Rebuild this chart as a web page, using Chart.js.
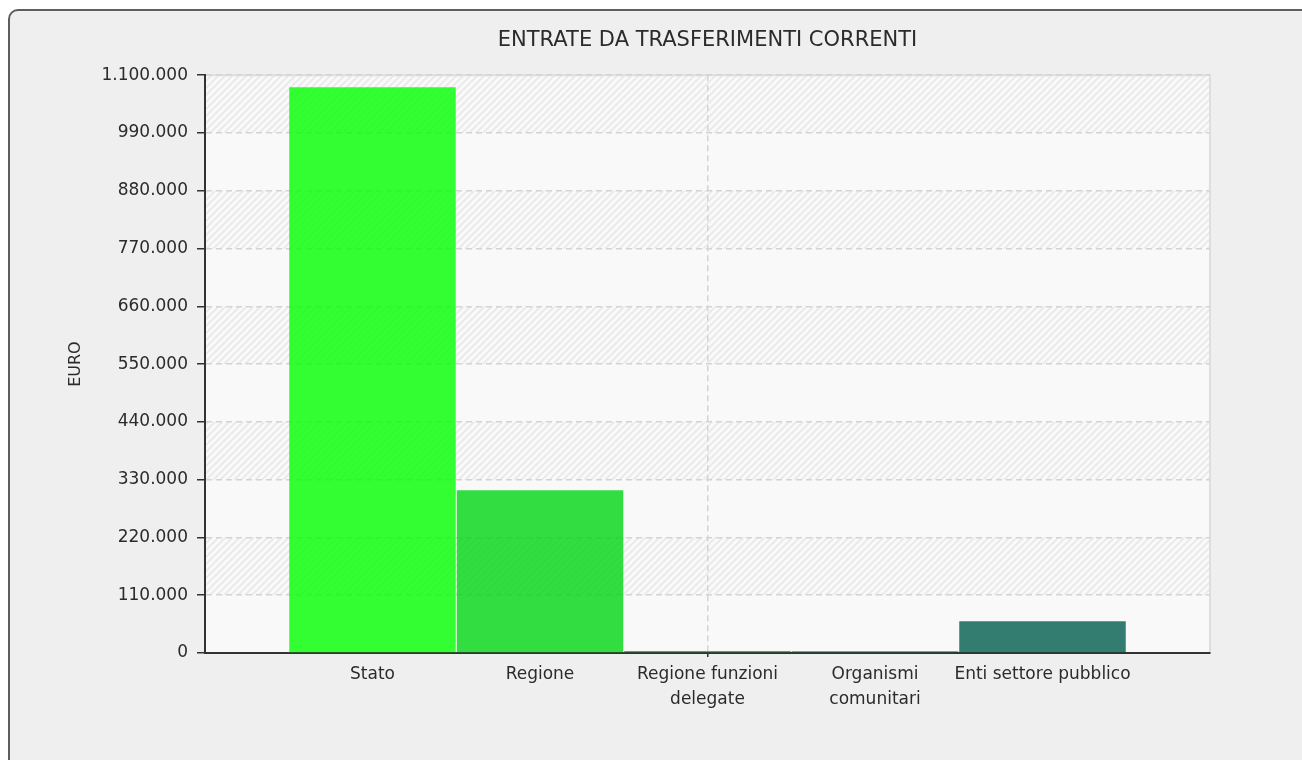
<!DOCTYPE html>
<html>
<head>
<meta charset="utf-8">
<title>Entrate da trasferimenti correnti</title>
<script src="https://cdn.jsdelivr.net/npm/chart.js@4.4.1/dist/chart.umd.min.js"></script>
<style>
  html, body { margin: 0; padding: 0; background: #fff; overflow: hidden; }
  #panel { position: absolute; left: 8px; top: 9px; width: 1330px; height: 790px; box-sizing: border-box;
           border: 2px solid #5e5e5e; border-radius: 10px; background: #efefef; }
  #wrap { position: absolute; left: 0; top: 0; width: 1302px; height: 760px; }
</style>
</head>
<body>
<div id="panel"></div>
<div id="wrap"><canvas id="chart"></canvas></div>
<script>
// ── Data ──
const categories = ['Stato', 'Regione', ['Regione funzioni', 'delegate'], ['Organismi', 'comunitari'], 'Enti settore pubblico'];
const values = [1077000, 310000, 4000, 3500, 60500];
const barColors = ['rgba(0,255,0,0.8)', 'rgba(0,214,20,0.8)', 'rgba(0,174,39,0.8)', 'rgba(0,134,58,0.8)', 'rgba(0,94,78,0.8)'];
const yMax = 1100000;
const yStep = 110000;

const FONT = 'DejaVu Sans';

function formatIt(v) {
  return String(Math.round(v)).replace(/\B(?=(\d{3})+(?!\d))/g, '.');
}

// diagonal hatch tile used for alternate bands of the plot
function makeHatch() {
  const c = document.createElement('canvas');
  c.width = 7; c.height = 7;
  const g = c.getContext('2d');
  g.fillStyle = '#f9f9f9';
  g.fillRect(0, 0, 7, 7);
  g.strokeStyle = '#e8e8e8';
  g.lineWidth = 1.6;
  g.beginPath();
  g.moveTo(-1, 8); g.lineTo(8, -1);
  g.moveTo(-1, 1); g.lineTo(1, -1);
  g.moveTo(6, 8); g.lineTo(8, 6);
  g.stroke();
  return c;
}

const plotBackground = {
  id: 'plotBackground',
  beforeDraw(chart) {
    const { ctx, chartArea: a, scales: { y } } = chart;
    ctx.save();
    ctx.fillStyle = '#f9f9f9';
    ctx.fillRect(a.left, a.top, a.right - a.left, a.bottom - a.top);
    ctx.fillStyle = ctx.createPattern(makeHatch(), 'repeat');
    for (let v = yStep; v < yMax; v += 2 * yStep) {
      const y1 = y.getPixelForValue(v + yStep);
      const y0 = y.getPixelForValue(v);
      ctx.fillRect(a.left, y1, a.right - a.left, y0 - y1);
    }
    ctx.strokeStyle = '#dedede';
    ctx.lineWidth = 2;
    ctx.beginPath();
    ctx.moveTo(a.left, a.top);
    ctx.lineTo(a.right, a.top);
    ctx.lineTo(a.right, a.bottom);
    ctx.stroke();
    ctx.restore();
  }
};

new Chart(document.getElementById('chart'), {
  type: 'bar',
  data: {
    datasets: [{
      label: 'EURO',
      data: values.map((v, i) => ({ x: i + 1, y: v })),
      backgroundColor: barColors,
      borderWidth: 0,
      barPercentage: 1,
      categoryPercentage: 0.994
    }]
  },
  options: {
    responsive: true,
    maintainAspectRatio: false,
    animation: false,
    layout: { padding: { left: 60, right: 92, top: 0, bottom: 0 } },
    plugins: {
      legend: { display: false },
      tooltip: { enabled: false },
      title: {
        display: true,
        text: 'ENTRATE DA TRASFERIMENTI CORRENTI',
        fullSize: false,
        color: '#2b2b2b',
        font: { family: FONT, size: 21, weight: 'normal' },
        padding: { top: 28, bottom: 22 }
      }
    },
    scales: {
      x: {
        type: 'linear',
        min: 0,
        max: categories.length + 1,
        offset: false,
        afterFit: s => { s.height = 107; },
        ticks: {
          stepSize: 1,
          autoSkip: false,
          maxRotation: 0,
          padding: 5,
          color: '#2b2b2b',
          font: { family: FONT, size: 17, lineHeight: '25px' },
          callback: v => categories[v - 1] || ''
        },
        grid: {
          offset: false,
          color: c => c.tick && c.tick.value === 3 ? '#d4d4d4' : 'rgba(0,0,0,0)',
          tickColor: c => c.tick && c.tick.value === 3 ? '#333' : 'rgba(0,0,0,0)',
          tickBorderDash: [],
          tickLength: 4,
          lineWidth: 1.5
        },
        border: { display: true, color: '#333', width: 2, dash: [6, 4] }
      },
      y: {
        min: 0,
        max: yMax,
        afterFit: s => { s.width = 145; },
        title: {
          display: true,
          text: 'EURO',
          color: '#2b2b2b',
          font: { family: FONT, size: 16 },
          padding: { top: 6, bottom: 0 }
        },
        ticks: {
          stepSize: yStep,
          padding: 9,
          color: '#2b2b2b',
          font: { family: FONT, size: 17 },
          callback: v => formatIt(v)
        },
        grid: {
          color: '#d4d4d4',
          tickColor: '#333',
          tickBorderDash: [],
          tickLength: 8,
          lineWidth: 1.5
        },
        border: { display: true, color: '#333', width: 2, dash: [6, 4] }
      }
    }
  },
  plugins: [plotBackground]
});
</script>
</body>
</html>
